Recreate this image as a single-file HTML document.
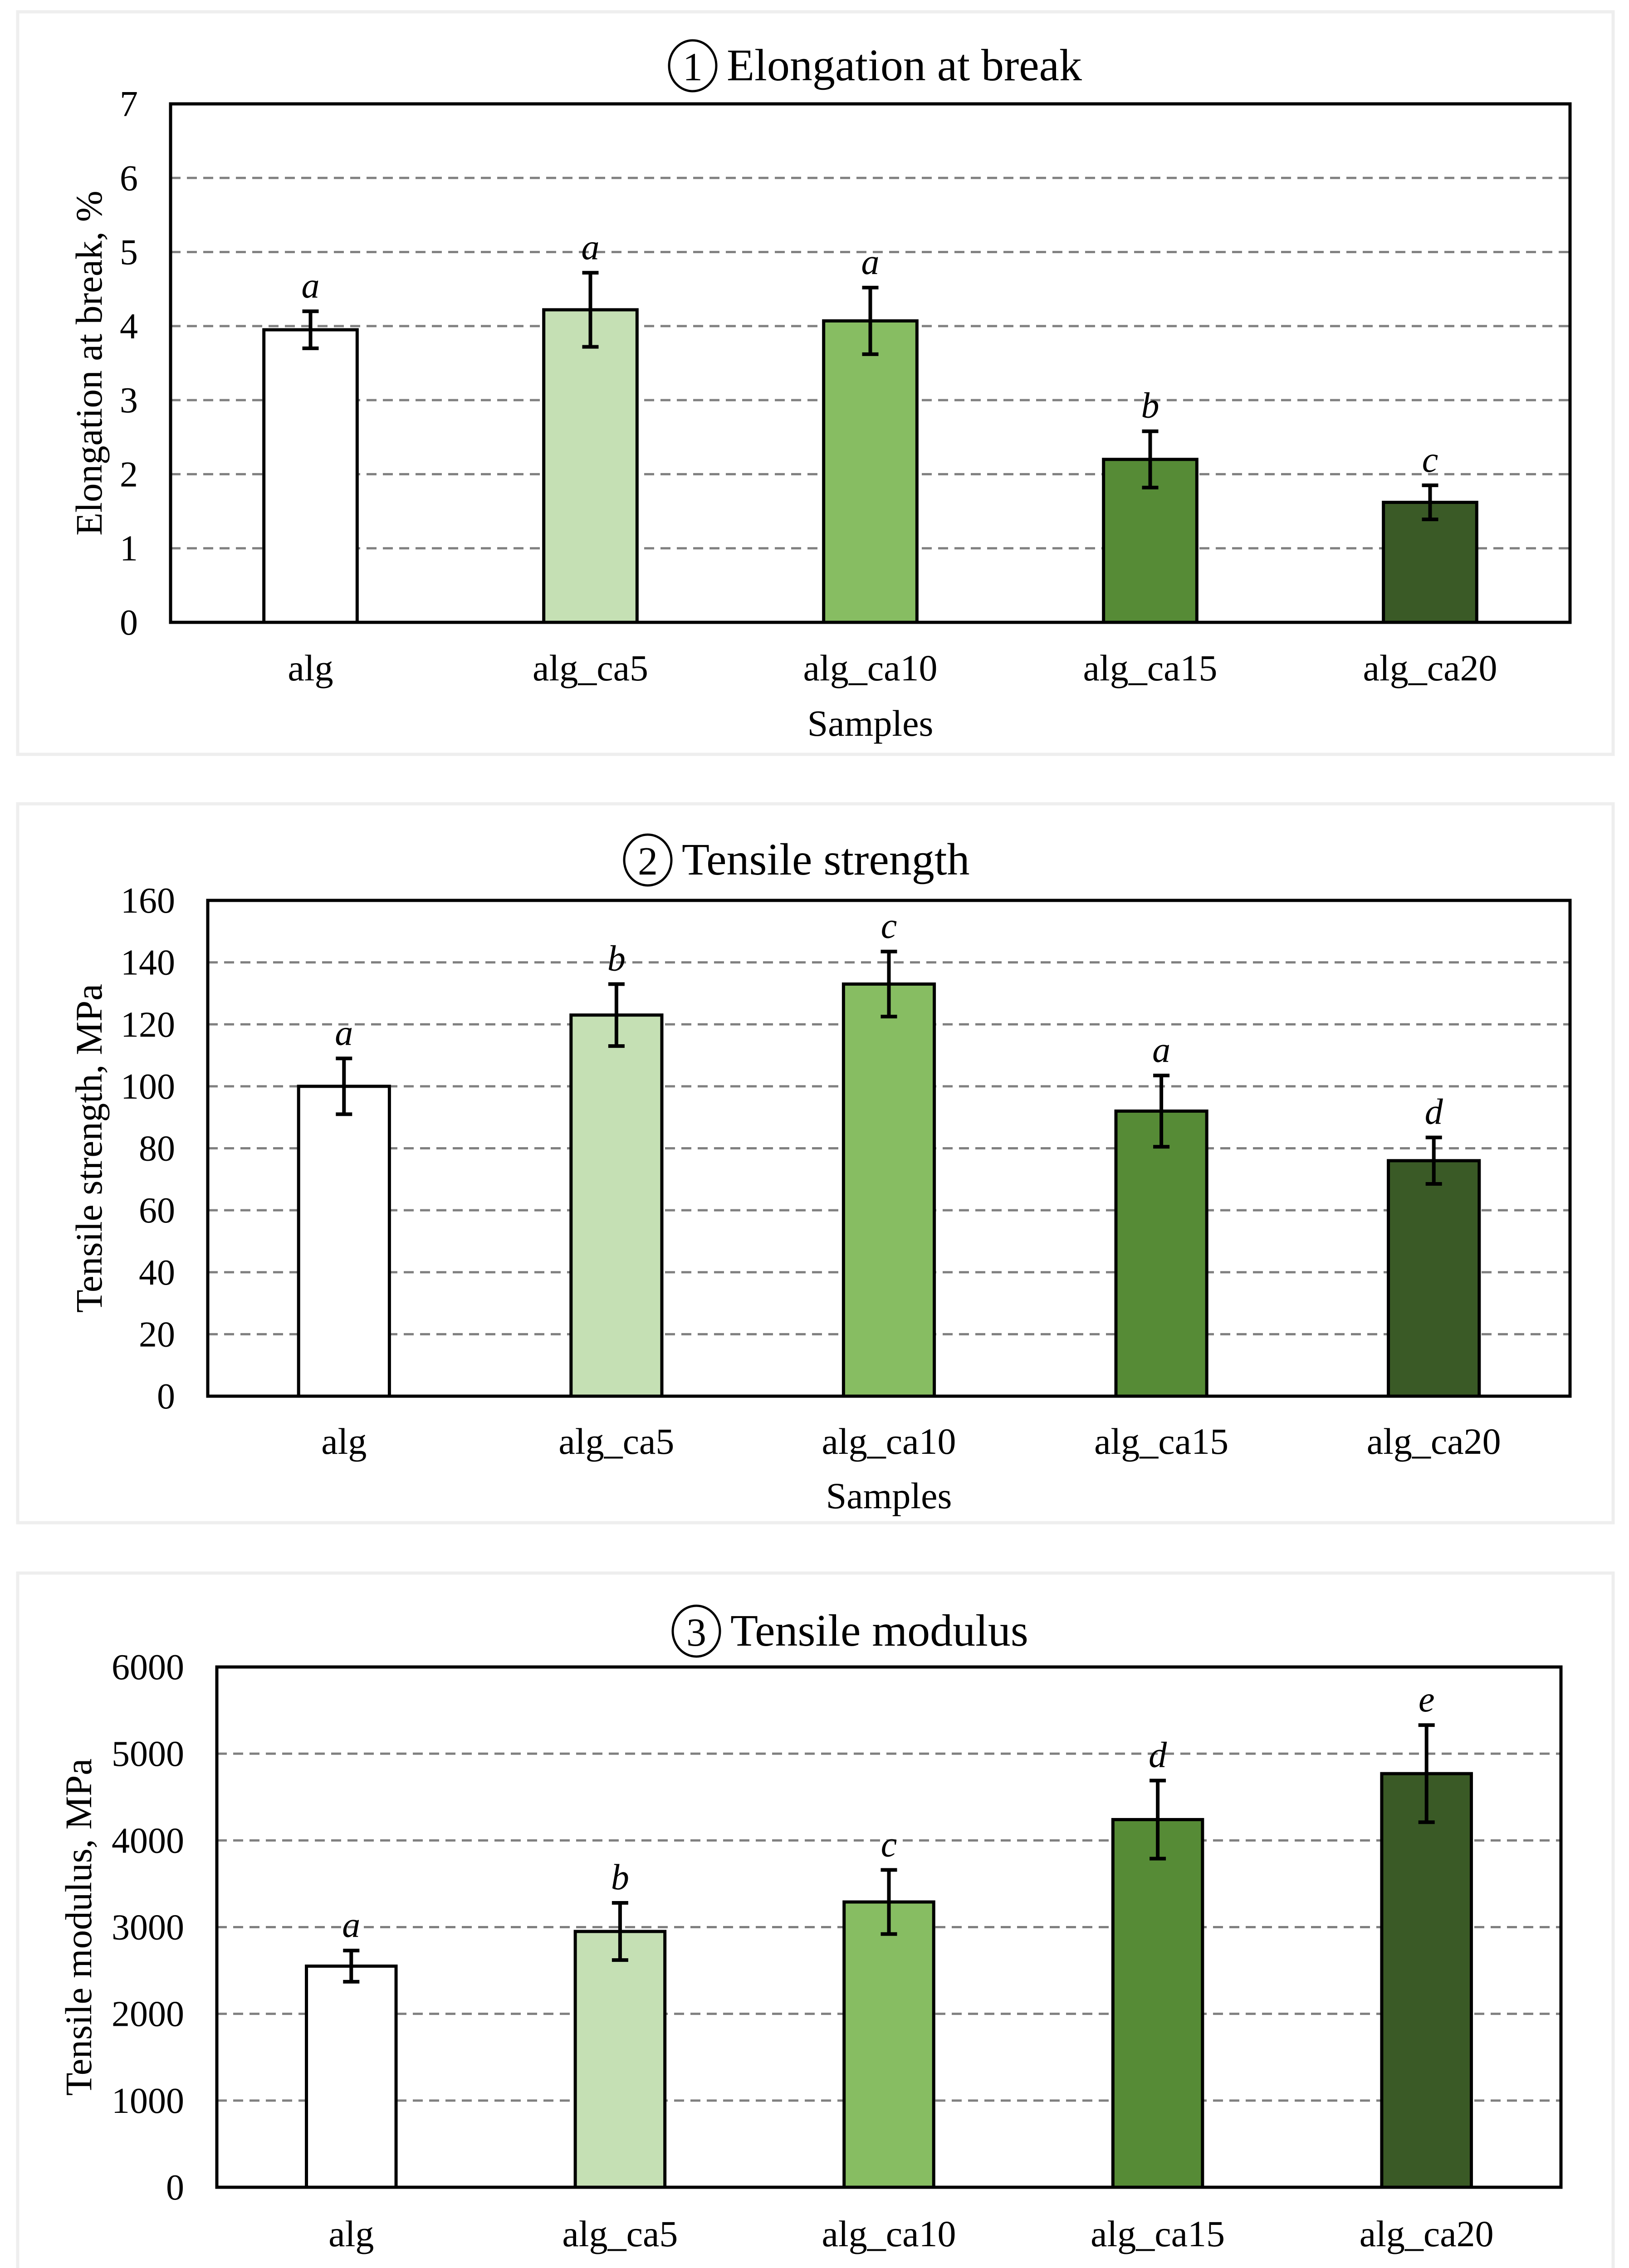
<!DOCTYPE html>
<html><head><meta charset="utf-8">
<style>
html,body{margin:0;padding:0;background:#fff;overflow:hidden;width:3591px;height:5148px;}
svg{display:block;}
text{font-family:"Liberation Serif",serif;fill:#000;}
</style></head>
<body>
<svg id="fig" width="3591" height="5148" viewBox="0 0 3591 5148" xmlns="http://www.w3.org/2000/svg"></svg>
<script>
const categories = ["alg","alg_ca5","alg_ca10","alg_ca15","alg_ca20"];
const colors = ["#ffffff","#c5e0b4","#87bd62","#568b36","#3a5a26"];
const elongValues = [3.95,4.22,4.07,2.2,1.62];
const elongErrors = [0.25,0.5,0.45,0.38,0.23];
const elongLetters = ["a","a","a","b","c"];
const elongTicks = [0,1,2,3,4,5,6,7];
const tensileValues = [100,123,133,92,76];
const tensileErrors = [9,10,10.5,11.5,7.5];
const tensileLetters = ["a","b","c","a","d"];
const tensileTicks = [0,20,40,60,80,100,120,140,160];
const modulusValues = [2550,2950,3290,4240,4770];
const modulusErrors = [180,330,370,450,560];
const modulusLetters = ["a","b","c","d","e"];
const modulusTicks = [0,1000,2000,3000,4000,5000,6000];

const NS="http://www.w3.org/2000/svg";
const svg=document.getElementById('fig');
function mk(tag,attrs,parent,txt){const e=document.createElementNS(NS,tag);for(const k in attrs)e.setAttribute(k,attrs[k]);if(txt!==undefined)e.textContent=txt;(parent||svg).appendChild(e);return e;}

const panels=[
 {key:"elongation",num:"1",title:"Elongation at break",ytitle:"Elongation at break, %",vals:elongValues,errs:elongErrors,letters:elongLetters,ticks:elongTicks,
  box:[39,26,3517,1637],plot:[376,229,3461,1372],titleY:177,titleCx:1965,ytx:196,xlabY:1500,sampY:1622},
 {key:"tensile-strength",num:"2",title:"Tensile strength",ytitle:"Tensile strength, MPa",vals:tensileValues,errs:tensileErrors,letters:tensileLetters,ticks:tensileTicks,
  box:[39,1772,3517,1585],plot:[458,1985,3461,3078],titleY:1928,titleCx:1800,ytx:196,xlabY:3205,sampY:3325},
 {key:"tensile-modulus",num:"3",title:"Tensile modulus",ytitle:"Tensile modulus, MPa",vals:modulusValues,errs:modulusErrors,letters:modulusLetters,ticks:modulusTicks,
  box:[39,3468,3517,1640],plot:[478,3675,3441,4822],titleY:3628,titleCx:1885,ytx:173,xlabY:4952,sampY:5074}
];

panels.forEach(p=>{
  const g=mk('g',{});
  
  
  const fr=mk('rect',{x:p.box[0],y:p.box[1],width:p.box[2],height:p.box[3],fill:'none',stroke:'#eeeeee','stroke-width':7},g);
  
  
  const [L,T,R,B]=p.plot;
  const ymax=p.ticks[p.ticks.length-1];
  const yS=v=>B-(v/ymax)*(B-T);
  const cw=(R-L)/categories.length;
  const xC=i=>L+cw*(i+0.5);
  const bw=cw/3;
  p.ticks.forEach((t,i)=>{
    if(t>0 && t<ymax){
      const gl=mk('line',{x1:L,x2:R,y1:yS(t),y2:yS(t),stroke:'#808080','stroke-width':5,'stroke-dasharray':'22 14'},g);
      
      
    }
    const tl=mk('text',{x:L-72,y:yS(t)+27,'text-anchor':'end','font-size':80},g,String(t));
    
    
  });
  p.vals.forEach((v,i)=>{
    const b=mk('rect',{x:xC(i)-bw/2,y:yS(v),width:bw,height:B-yS(v),fill:colors[i],stroke:'#000','stroke-width':7},g);
    
    
    const e=p.errs[i];
    const eg=mk('g',{stroke:'#000','stroke-width':8},g);
    
    
    mk('line',{x1:xC(i),x2:xC(i),y1:yS(v+e),y2:yS(v-e)},eg);
    mk('line',{x1:xC(i)-18,x2:xC(i)+18,y1:yS(v+e),y2:yS(v+e)},eg);
    mk('line',{x1:xC(i)-18,x2:xC(i)+18,y1:yS(v-e),y2:yS(v-e)},eg);
    const lt=mk('text',{x:xC(i),y:yS(v+e)-30,'text-anchor':'middle','font-size':80,'font-style':'italic'},g,p.letters[i]);
    
    
    const xl=mk('text',{x:xC(i),y:p.xlabY,'text-anchor':'middle','font-size':82},g,categories[i]);
    
    
  });
  const pa=mk('rect',{x:L,y:T,width:R-L,height:B-T,fill:'none',stroke:'#000','stroke-width':7},g);
  
  
  const tw=p.title.length*44;
  const tx=p.titleCx-tw/2+55;
  const cc=mk('ellipse',{cx:tx-75,cy:p.titleY-32,rx:52,ry:56,fill:'none',stroke:'#000','stroke-width':5},g);
  
  
  const cn=mk('text',{x:tx-75,y:p.titleY,'text-anchor':'middle','font-size':88},g,p.num);
  
  
  const tt=mk('text',{x:tx,y:p.titleY,'font-size':100},g,p.title);
  
  
  const yt=mk('text',{x:0,y:0,'text-anchor':'middle','font-size':83,transform:`translate(${p.ytx+28},${(T+B)/2}) rotate(-90)`},g,p.ytitle);
  
  
  const st=mk('text',{x:(L+R)/2,y:p.sampY,'text-anchor':'middle','font-size':82},g,'Samples');
  
  
});
</script>
</body></html>
